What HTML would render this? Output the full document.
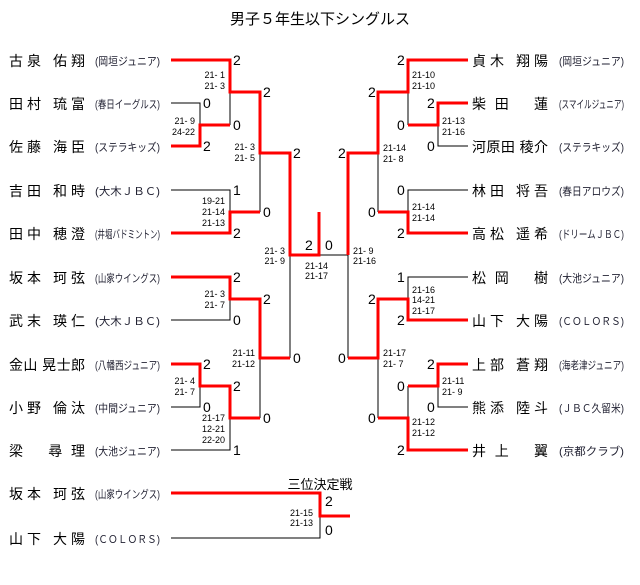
<!DOCTYPE html>
<html><head><meta charset="utf-8"><style>
html,body{margin:0;padding:0;background:#fff;}
svg{display:block;font-family:"Liberation Sans","Noto Sans CJK JP",sans-serif;}
.n{font-size:14px;fill:#000;}
.c{font-size:11px;fill:#223;}
.s{font-size:14px;fill:#000;}
.t{font-size:9px;fill:#000;}
.k{stroke:#000;stroke-width:1;fill:none;}
.r{stroke:#f00;stroke-width:3;fill:none;}
</style></head><body>
<svg width="640" height="585" viewBox="0 0 640 585">
<text x="230" y="24" font-size="15" textLength="180" lengthAdjust="spacingAndGlyphs">男子５年生以下シングルス</text>

<g class="n">
<text x="9" y="66" textLength="76" lengthAdjust="spacing">古泉 佑翔</text>
<text x="9" y="109" textLength="76" lengthAdjust="spacing">田村 琉富</text>
<text x="9" y="152" textLength="76" lengthAdjust="spacing">佐藤 海臣</text>
<text x="9" y="196" textLength="76" lengthAdjust="spacing">吉田 和時</text>
<text x="9" y="239" textLength="76" lengthAdjust="spacing">田中 穂澄</text>
<text x="9" y="283" textLength="76" lengthAdjust="spacing">坂本 珂弦</text>
<text x="9" y="326" textLength="76" lengthAdjust="spacing">武末 瑛仁</text>
<text x="9" y="370" textLength="76" lengthAdjust="spacing">金山 晃士郎</text>
<text x="9" y="413" textLength="76" lengthAdjust="spacing">小野 倫汰</text>
<text x="9" y="456" textLength="76" lengthAdjust="spacing">梁　 尋 理</text>
<text x="9" y="499" textLength="76" lengthAdjust="spacing">坂本 珂弦</text>
<text x="9" y="544" textLength="76" lengthAdjust="spacing">山下 大陽</text>

<text x="472" y="66" textLength="76" lengthAdjust="spacing">貞木 翔陽</text>
<text x="472" y="109" textLength="76" lengthAdjust="spacing">柴 田　 蓮</text>
<text x="472" y="152" textLength="76" lengthAdjust="spacing">河原田 稜介</text>
<text x="472" y="196" textLength="76" lengthAdjust="spacing">林田 将吾</text>
<text x="472" y="239" textLength="76" lengthAdjust="spacing">高松 遥希</text>
<text x="472" y="283" textLength="76" lengthAdjust="spacing">松 岡　 樹</text>
<text x="472" y="326" textLength="76" lengthAdjust="spacing">山下 大陽</text>
<text x="472" y="370" textLength="76" lengthAdjust="spacing">上部 蒼翔</text>
<text x="472" y="413" textLength="76" lengthAdjust="spacing">熊添 陸斗</text>
<text x="472" y="456" textLength="76" lengthAdjust="spacing">井 上　 翼</text>
</g>
<g class="c">
<text x="95" y="65" textLength="65" lengthAdjust="spacingAndGlyphs">(岡垣ジュニア)</text>
<text x="95" y="108" textLength="65" lengthAdjust="spacingAndGlyphs">(春日イーグルス)</text>
<text x="95" y="151" textLength="65" lengthAdjust="spacingAndGlyphs">(ステラキッズ)</text>
<text x="95" y="195" textLength="65" lengthAdjust="spacingAndGlyphs">(大木ＪＢＣ)</text>
<text x="95" y="238" textLength="65" lengthAdjust="spacingAndGlyphs">(井堀バドミントン)</text>
<text x="95" y="282" textLength="65" lengthAdjust="spacingAndGlyphs">(山家ウイングス)</text>
<text x="95" y="325" textLength="65" lengthAdjust="spacingAndGlyphs">(大木ＪＢＣ)</text>
<text x="95" y="369" textLength="65" lengthAdjust="spacingAndGlyphs">(八幡西ジュニア)</text>
<text x="95" y="412" textLength="65" lengthAdjust="spacingAndGlyphs">(中間ジュニア)</text>
<text x="95" y="455" textLength="65" lengthAdjust="spacingAndGlyphs">(大池ジュニア)</text>
<text x="95" y="498" textLength="65" lengthAdjust="spacingAndGlyphs">(山家ウイングス)</text>
<text x="95" y="543" textLength="65" lengthAdjust="spacingAndGlyphs">(ＣＯＬＯＲＳ)</text>

<text x="559" y="65" textLength="65" lengthAdjust="spacingAndGlyphs">(岡垣ジュニア)</text>
<text x="559" y="108" textLength="65" lengthAdjust="spacingAndGlyphs">(スマイルジュニア)</text>
<text x="559" y="151" textLength="65" lengthAdjust="spacingAndGlyphs">(ステラキッズ)</text>
<text x="559" y="195" textLength="65" lengthAdjust="spacingAndGlyphs">(春日アロウズ)</text>
<text x="559" y="238" textLength="65" lengthAdjust="spacingAndGlyphs">(ドリームＪＢＣ)</text>
<text x="559" y="282" textLength="65" lengthAdjust="spacingAndGlyphs">(大池ジュニア)</text>
<text x="559" y="325" textLength="65" lengthAdjust="spacingAndGlyphs">(ＣＯＬＯＲＳ)</text>
<text x="559" y="369" textLength="65" lengthAdjust="spacingAndGlyphs">(海老津ジュニア)</text>
<text x="559" y="412" textLength="65" lengthAdjust="spacingAndGlyphs">(ＪＢＣ久留米)</text>
<text x="559" y="455" textLength="65" lengthAdjust="spacingAndGlyphs">(京都クラブ)</text>
</g>

<!-- black lines -->
<path class="k" d="
M171,103H200V125 M230,92V125
M171,190H230V212 M260,153V212
M171,320H230V299
M171,407H200V386 M171,450H230V418 M260,358V418
M290,255V358
M319,255H348V358
M468,103 M408,92V125 M468,146H438V125
M468,190H408V212 M378,153V212
M468,277H408V299
M468,407H438V386 M408,386V418 M378,358V418
M171,538H320V516
"/>
<!-- red lines -->
<path class="r" d="
M171,60H230V92H260V153H290V255H319V212
M171,146H200V125H230
M171,233H230V212H260
M171,277H230V299H260V358H290
M171,364H200V386H230V418H260
M468,60H408V92H378V153H348V255
M468,103H438V125H408
M468,233H408V212H378
M468,320H408V299H378V358H348
M468,364H438V386H408
M468,450H408V418H378
M171,493H320V516H350
"/>

<g class="s">
<text x="233" y="65">2</text><text x="203" y="108">0</text><text x="203" y="151">2</text>
<text x="233" y="130">0</text><text x="263" y="97">2</text><text x="293" y="158">2</text>
<text x="233" y="195">1</text><text x="263" y="217">0</text><text x="233" y="238">2</text>
<text x="233" y="282">2</text><text x="233" y="325">0</text><text x="263" y="304">2</text>
<text x="293" y="363">0</text><text x="203" y="369">2</text><text x="203" y="412">0</text>
<text x="233" y="391">2</text><text x="263" y="423">0</text><text x="233" y="455">1</text>
<text x="305" y="250">2</text><text x="325" y="250">0</text>

<text x="397" y="65">2</text><text x="368" y="97">2</text><text x="427" y="108">2</text>
<text x="397" y="130">0</text><text x="427" y="151">0</text><text x="338" y="158">2</text>
<text x="397" y="195">0</text><text x="368" y="217">0</text><text x="397" y="238">2</text>
<text x="397" y="282">1</text><text x="368" y="304">2</text><text x="397" y="325">2</text>
<text x="338" y="363">0</text><text x="427" y="369">2</text><text x="397" y="391">0</text>
<text x="427" y="412">0</text><text x="368" y="423">0</text><text x="397" y="455">2</text>
<text x="325" y="506">2</text><text x="325" y="535">0</text>
</g>
<text x="320" y="489" font-size="13" text-anchor="middle">三位決定戦</text>

<g class="t" text-anchor="end">
<text x="225" y="78">21- 1</text><text x="225" y="89">21- 3</text>
<text x="195" y="124">21- 9</text><text x="195" y="135">24-22</text>
<text x="255" y="150">21- 3</text><text x="255" y="161">21- 5</text>
<text x="225" y="204">19-21</text><text x="225" y="215">21-14</text><text x="225" y="226">21-13</text>
<text x="225" y="297">21- 3</text><text x="225" y="308">21- 7</text>
<text x="255" y="356">21-11</text><text x="255" y="367">21-12</text>
<text x="195" y="384">21- 4</text><text x="195" y="395">21- 7</text>
<text x="225" y="421">21-17</text><text x="225" y="432">12-21</text><text x="225" y="443">22-20</text>
<text x="285" y="254">21- 3</text><text x="285" y="264">21- 9</text>
<text x="313" y="516">21-15</text><text x="313" y="526">21-13</text>
</g>
<g class="t">
<text x="305" y="269">21-14</text><text x="305" y="279">21-17</text>
<text x="353" y="254">21- 9</text><text x="353" y="264">21-16</text>
<text x="412" y="78">21-10</text><text x="412" y="89">21-10</text>
<text x="442" y="124">21-13</text><text x="442" y="135">21-16</text>
<text x="383" y="151">21-14</text><text x="383" y="162">21- 8</text>
<text x="412" y="210">21-14</text><text x="412" y="221">21-14</text>
<text x="412" y="293">21-16</text><text x="412" y="303">14-21</text><text x="412" y="314">21-17</text>
<text x="383" y="356">21-17</text><text x="383" y="367">21- 7</text>
<text x="442" y="384">21-11</text><text x="442" y="395">21- 9</text>
<text x="412" y="425">21-12</text><text x="412" y="436">21-12</text>
</g>
</svg>
</body></html>
